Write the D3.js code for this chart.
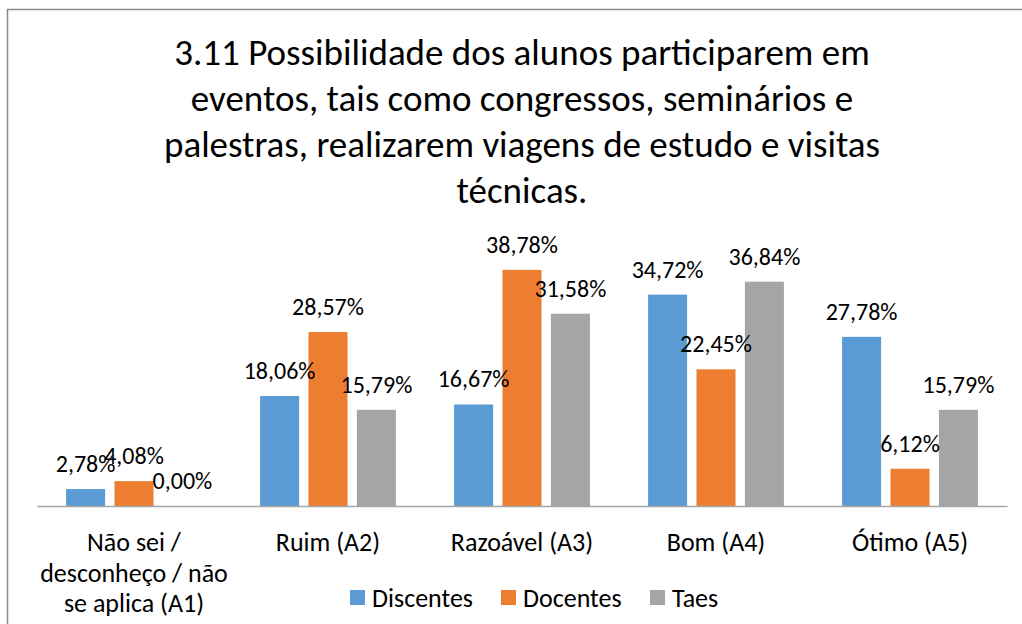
<!DOCTYPE html>
<html>
<head>
<meta charset="utf-8">
<script src="https://cdn.jsdelivr.net/npm/d3@7"></script>
<style>
  body { margin: 0; background: #fff; }
  svg { display: block; }
  text { font-family: Carlito, Calibri, Lato, "Open Sans", sans-serif; fill: #000; }
</style>
</head>
<body>
<svg id="chart" width="1022" height="624"></svg>
<script>
const titleLines = [
  "3.11 Possibilidade dos alunos participarem em",
  "eventos, tais como congressos, seminários e",
  "palestras, realizarem viagens de estudo e visitas",
  "técnicas."
];
const categories = ["A1", "A2", "A3", "A4", "A5"];
const categoryLabels = [
  ["Não sei /", "desconheço / não", "se aplica (A1)"],
  ["Ruim (A2)"],
  ["Razoável (A3)"],
  ["Bom (A4)"],
  ["Ótimo (A5)"]
];
const seriesNames = ["Discentes", "Docentes", "Taes"];
const seriesColors = ["#5B9BD5", "#ED7D31", "#A5A5A5"];
const discentes = [2.78, 18.06, 16.67, 34.72, 27.78];
const docentes = [4.08, 28.57, 38.78, 22.45, 6.12];
const taes = [0.00, 15.79, 31.58, 36.84, 15.79];
const seriesValues = [discentes, docentes, taes];

const svg = d3.select("#chart");

// outer frame
svg.append("rect")
  .attr("x", 7.5).attr("y", 9.5)
  .attr("width", 1030).attr("height", 640)
  .attr("fill", "none").attr("stroke", "#8a8a8a").attr("stroke-width", 1.5);

// title
svg.append("text")
  .attr("text-anchor", "middle")
  .style("font-size", "37px")
  .selectAll("tspan").data(titleLines).join("tspan")
  .attr("x", 522)
  .attr("y", (d, i) => 65 + i * 46)
  .text(d => d);

const x0 = d3.scaleBand().domain(categories).range([37, 1007]).paddingInner(0.3).paddingOuter(0.15);
const x1 = d3.scaleBand().domain(seriesNames).range([0, x0.bandwidth()]).paddingInner(0.194);
const y = d3.scaleLinear().domain([0, 45]).range([506, 232]);

const data = [];
categories.forEach((c, ci) => {
  seriesNames.forEach((s, si) => {
    data.push({ c, s, si, v: seriesValues[si][ci] });
  });
});

svg.append("g").selectAll("rect").data(data).join("rect")
  .attr("x", d => x0(d.c) + x1(d.s))
  .attr("y", d => y(d.v))
  .attr("width", x1.bandwidth())
  .attr("height", d => y(0) - y(d.v))
  .attr("fill", d => seriesColors[d.si]);

// axis line
const xAxis = d3.axisBottom(x0).tickSize(0).tickFormat("");
const ax = svg.append("g").attr("transform", `translate(0,${y(0)})`).call(xAxis);
ax.select(".domain").attr("stroke", "#a6a6a6").attr("stroke-width", 1.5);

// category labels
const catG = svg.append("g").selectAll("text").data(categories).join("text")
  .attr("text-anchor", "middle")
  .style("font-size", "26px");
catG.selectAll("tspan").data((d, i) => categoryLabels[i].map(t => ({ t, c: d }))).join("tspan")
  .attr("x", d => x0(d.c) + x0.bandwidth() / 2)
  .attr("y", (d, i) => 551 + i * 30.5)
  .text(d => d.t);

// data labels
const fmt = v => v.toFixed(2).replace(".", ",") + "%";
svg.append("g").selectAll("text").data(data).join("text")
  .attr("text-anchor", "middle")
  .style("font-size", "24px")
  .attr("x", d => x0(d.c) + x1(d.s) + x1.bandwidth() / 2)
  .attr("y", d => y(d.v) - 17)
  .text(d => fmt(d.v));

// legend
const legendX = [350, 501, 650];
const lg = svg.append("g").selectAll("g").data(seriesNames).join("g")
  .attr("transform", (d, i) => `translate(${legendX[i]},590)`);
lg.append("rect").attr("width", 15).attr("height", 15).attr("fill", (d, i) => seriesColors[i]);
lg.append("text").attr("x", 22).attr("y", 17).style("font-size", "26px").text(d => d);
</script>
</body>
</html>
